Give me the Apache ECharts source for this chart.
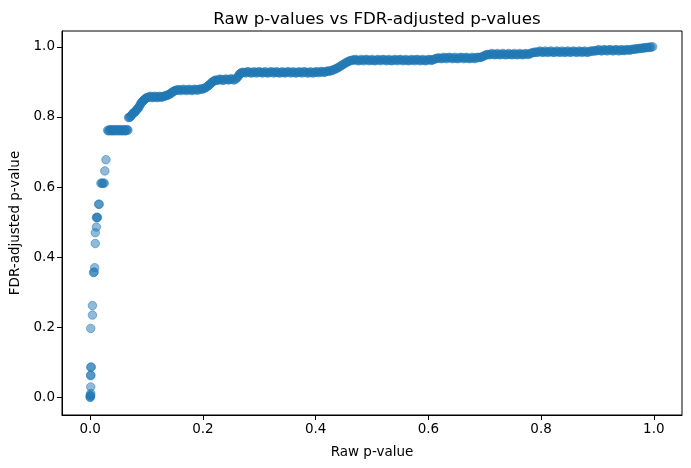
<!DOCTYPE html>
<html>
<head>
<meta charset="utf-8">
<script src="https://cdn.jsdelivr.net/npm/echarts@6/dist/echarts.min.js"></script>
<style>
  html, body { margin: 0; padding: 0; background: #fff; }
  #show_picture { width: 691px; height: 468px; }
</style>
</head>
<body>
<div id="show_picture"></div>
<script>
// [raw p-value, FDR-adjusted p-value]
const steepStart = [
    [0.000, 0.000], [0.000, 0.002], [0.001, 0.004], [0.000, 0.006], [0.001, 0.011],
    [0.001, 0.030], [0.001, 0.062], [0.001, 0.064], [0.001, 0.086], [0.002, 0.087],
    [0.001, 0.197], [0.004, 0.235], [0.004, 0.262], [0.006, 0.356], [0.007, 0.358],
    [0.008, 0.370], [0.009, 0.439], [0.009, 0.470], [0.011, 0.486], [0.011, 0.513],
    [0.012, 0.514], [0.013, 0.513], [0.015, 0.551], [0.016, 0.551], [0.019, 0.611],
    [0.021, 0.611], [0.023, 0.611], [0.025, 0.611], [0.026, 0.646], [0.028, 0.678]
];

const kneePart = [
    [0.031, 0.762], [0.034, 0.762], [0.037, 0.762], [0.040, 0.762], [0.043, 0.762],
    [0.046, 0.762], [0.049, 0.762], [0.052, 0.762], [0.055, 0.762], [0.058, 0.762],
    [0.061, 0.762], [0.064, 0.762], [0.067, 0.762],
    [0.0325, 0.760], [0.0355, 0.764], [0.0385, 0.760], [0.0415, 0.764], [0.0445, 0.760],
    [0.0475, 0.764], [0.0505, 0.760], [0.0535, 0.764], [0.0565, 0.760], [0.0595, 0.764],
    [0.0625, 0.760], [0.0655, 0.764],
    [0.068, 0.798], [0.071, 0.800], [0.074, 0.806], [0.077, 0.812], [0.080, 0.815],
    [0.083, 0.822], [0.086, 0.826], [0.089, 0.836], [0.092, 0.843], [0.095, 0.848],
    [0.098, 0.852], [0.101, 0.855], [0.105, 0.857], [0.109, 0.857], [0.113, 0.857],
    [0.117, 0.857], [0.121, 0.857], [0.125, 0.857], [0.129, 0.858], [0.133, 0.860],
    [0.137, 0.862], [0.141, 0.865], [0.145, 0.870], [0.149, 0.874], [0.153, 0.876],
    [0.158, 0.877], [0.163, 0.877], [0.168, 0.877], [0.173, 0.877], [0.178, 0.877],
    [0.183, 0.877], [0.188, 0.878], [0.193, 0.878], [0.198, 0.879], [0.203, 0.882],
    [0.207, 0.886], [0.211, 0.891], [0.215, 0.897], [0.219, 0.902], [0.223, 0.905],
    [0.228, 0.906], [0.233, 0.906], [0.238, 0.906], [0.243, 0.907], [0.248, 0.907],
    [0.253, 0.907], [0.258, 0.908], [0.262, 0.914], [0.265, 0.922], [0.268, 0.926],
    [0.0695, 0.799], [0.0725, 0.803], [0.0755, 0.809], [0.0785, 0.813], [0.0815, 0.818],
    [0.0845, 0.824], [0.0875, 0.831], [0.0905, 0.840], [0.0935, 0.845], [0.0965, 0.850],
    [0.0995, 0.854], [0.103, 0.856], [0.107, 0.859], [0.111, 0.855], [0.115, 0.859],
    [0.119, 0.855], [0.123, 0.859], [0.127, 0.856], [0.131, 0.859], [0.135, 0.861],
    [0.139, 0.863], [0.143, 0.867], [0.147, 0.872], [0.151, 0.875], [0.1555, 0.878],
    [0.1605, 0.875], [0.1655, 0.879], [0.1705, 0.875], [0.1755, 0.879], [0.1805, 0.875],
    [0.1855, 0.879], [0.1905, 0.876], [0.1955, 0.880], [0.2005, 0.880], [0.205, 0.884],
    [0.209, 0.888], [0.213, 0.894], [0.217, 0.900], [0.221, 0.904], [0.2255, 0.904],
    [0.2305, 0.908], [0.2355, 0.904], [0.2405, 0.908], [0.2455, 0.905], [0.2505, 0.909],
    [0.2555, 0.905], [0.260, 0.911], [0.2635, 0.918], [0.2665, 0.924], [0.2705, 0.927]
];

const middlePart = [
    [0.273, 0.927], [0.278, 0.928], [0.283, 0.927], [0.288, 0.926], [0.293, 0.927],
    [0.298, 0.928], [0.303, 0.927], [0.308, 0.927], [0.313, 0.926], [0.318, 0.927],
    [0.323, 0.928], [0.328, 0.927], [0.333, 0.927], [0.338, 0.926], [0.343, 0.927],
    [0.348, 0.927], [0.353, 0.928], [0.358, 0.927], [0.363, 0.926], [0.368, 0.927],
    [0.373, 0.927], [0.378, 0.928], [0.383, 0.927], [0.388, 0.926], [0.393, 0.927],
    [0.398, 0.927], [0.403, 0.928], [0.408, 0.928], [0.413, 0.928],
    [0.2755, 0.925], [0.2805, 0.929], [0.2855, 0.925], [0.2905, 0.929], [0.2955, 0.925],
    [0.3005, 0.929], [0.3055, 0.925], [0.3105, 0.929], [0.3155, 0.925], [0.3205, 0.929],
    [0.3255, 0.925], [0.3305, 0.929], [0.3355, 0.925], [0.3405, 0.929], [0.3455, 0.925],
    [0.3505, 0.929], [0.3555, 0.925], [0.3605, 0.929], [0.3655, 0.925], [0.3705, 0.929],
    [0.3755, 0.925], [0.3805, 0.929], [0.3855, 0.925], [0.3905, 0.929], [0.3955, 0.925],
    [0.4005, 0.929], [0.4055, 0.926], [0.4105, 0.930], [0.4155, 0.927],
    [0.418, 0.929], [0.423, 0.930], [0.428, 0.932], [0.433, 0.935], [0.438, 0.939],
    [0.443, 0.944], [0.448, 0.949], [0.453, 0.954], [0.458, 0.958], [0.463, 0.961],
    [0.4205, 0.931], [0.4255, 0.931], [0.4305, 0.934], [0.4355, 0.937], [0.4405, 0.941],
    [0.4455, 0.946], [0.4505, 0.951], [0.4555, 0.956], [0.4605, 0.960], [0.4655, 0.962],
    [0.468, 0.962], [0.473, 0.962], [0.478, 0.961], [0.483, 0.962], [0.488, 0.963],
    [0.493, 0.962], [0.498, 0.962], [0.503, 0.961], [0.508, 0.962], [0.513, 0.962],
    [0.518, 0.963], [0.523, 0.962], [0.528, 0.962], [0.533, 0.961], [0.538, 0.962],
    [0.543, 0.962], [0.548, 0.963], [0.553, 0.962], [0.558, 0.962], [0.563, 0.961],
    [0.568, 0.962], [0.573, 0.962], [0.578, 0.963], [0.583, 0.962], [0.588, 0.962],
    [0.593, 0.961], [0.598, 0.962], [0.603, 0.963],
    [0.4705, 0.964], [0.4755, 0.960], [0.4805, 0.964], [0.4855, 0.960], [0.4905, 0.964],
    [0.4955, 0.960], [0.5005, 0.964], [0.5055, 0.960], [0.5105, 0.964], [0.5155, 0.960],
    [0.5205, 0.964], [0.5255, 0.960], [0.5305, 0.964], [0.5355, 0.960], [0.5405, 0.964],
    [0.5455, 0.960], [0.5505, 0.964], [0.5555, 0.960], [0.5605, 0.964], [0.5655, 0.960],
    [0.5705, 0.964], [0.5755, 0.960], [0.5805, 0.964], [0.5855, 0.960], [0.5905, 0.964],
    [0.5955, 0.960], [0.6005, 0.964], [0.6055, 0.961]
];

const upperPart = [
    [0.610, 0.964], [0.615, 0.967], [0.620, 0.968], [0.625, 0.967], [0.630, 0.968],
    [0.635, 0.969], [0.640, 0.968], [0.645, 0.968], [0.650, 0.967], [0.655, 0.968],
    [0.660, 0.969], [0.665, 0.968], [0.670, 0.968], [0.675, 0.967], [0.680, 0.968],
    [0.685, 0.969], [0.690, 0.969], [0.695, 0.971], [0.700, 0.975], [0.705, 0.978],
    [0.710, 0.978], [0.715, 0.979], [0.720, 0.978], [0.725, 0.978], [0.730, 0.979],
    [0.735, 0.978], [0.740, 0.978], [0.745, 0.979], [0.750, 0.978], [0.755, 0.978],
    [0.760, 0.979], [0.765, 0.978], [0.770, 0.979], [0.775, 0.979], [0.780, 0.980],
    [0.785, 0.983], [0.790, 0.985], [0.795, 0.985], [0.800, 0.986], [0.805, 0.985],
    [0.810, 0.985], [0.815, 0.986], [0.820, 0.985], [0.825, 0.985], [0.830, 0.986],
    [0.835, 0.985], [0.840, 0.985], [0.845, 0.986], [0.850, 0.985], [0.855, 0.986],
    [0.860, 0.986], [0.865, 0.985], [0.870, 0.986], [0.875, 0.986], [0.880, 0.985],
    [0.885, 0.986], [0.890, 0.987], [0.895, 0.989], [0.900, 0.990], [0.905, 0.989],
    [0.910, 0.990], [0.915, 0.990], [0.920, 0.991], [0.925, 0.990], [0.930, 0.990],
    [0.935, 0.991], [0.940, 0.990], [0.945, 0.990], [0.950, 0.991], [0.955, 0.991],
    [0.960, 0.992], [0.965, 0.993], [0.970, 0.994], [0.975, 0.995], [0.980, 0.996],
    [0.985, 0.997], [0.990, 0.998], [0.995, 0.999], [0.998, 1.000],
    [0.6075, 0.963], [0.6125, 0.966], [0.6175, 0.968], [0.6225, 0.966], [0.6275, 0.970],
    [0.6325, 0.966], [0.6375, 0.970], [0.6425, 0.966], [0.6475, 0.970], [0.6525, 0.966],
    [0.6575, 0.970], [0.6625, 0.966], [0.6675, 0.970], [0.6725, 0.966], [0.6775, 0.970],
    [0.6825, 0.966], [0.6875, 0.970], [0.6925, 0.970], [0.6975, 0.973], [0.7025, 0.977],
    [0.7075, 0.977], [0.7125, 0.981], [0.7175, 0.977], [0.7225, 0.981], [0.7275, 0.977],
    [0.7325, 0.981], [0.7375, 0.977], [0.7425, 0.981], [0.7475, 0.977], [0.7525, 0.981],
    [0.7575, 0.977], [0.7625, 0.981], [0.7675, 0.977], [0.7725, 0.981], [0.7775, 0.978],
    [0.7825, 0.982], [0.7875, 0.984], [0.7925, 0.984], [0.7975, 0.988], [0.8025, 0.984],
    [0.8075, 0.988], [0.8125, 0.984], [0.8175, 0.988], [0.8225, 0.984], [0.8275, 0.988],
    [0.8325, 0.984], [0.8375, 0.988], [0.8425, 0.984], [0.8475, 0.988], [0.8525, 0.984],
    [0.8575, 0.988], [0.8625, 0.984], [0.8675, 0.988], [0.8725, 0.984], [0.8775, 0.988],
    [0.8825, 0.984], [0.8875, 0.988], [0.8925, 0.988], [0.8975, 0.988], [0.9025, 0.992],
    [0.9075, 0.988], [0.9125, 0.992], [0.9175, 0.988], [0.9225, 0.992], [0.9275, 0.988],
    [0.9325, 0.992], [0.9375, 0.988], [0.9425, 0.992], [0.9475, 0.989], [0.9525, 0.992],
    [0.9575, 0.990], [0.9625, 0.993], [0.9675, 0.994], [0.9725, 0.995], [0.9775, 0.996],
    [0.9825, 0.997], [0.9875, 0.998], [0.9925, 0.999]
];

const xTicks = [0, 0.2, 0.4, 0.6, 0.8, 1.0];
const yTicks = [0, 0.2, 0.4, 0.6, 0.8, 1.0];

let myChart = echarts.init(document.getElementById('show_picture'), null, { renderer: 'canvas' });

const font = 'DejaVu Sans';
let points = steepStart.concat(kneePart, middlePart, upperPart);

let option = {
    animation: false,
    backgroundColor: '#fff',
    textStyle: { fontFamily: font },
    title: {
        text: 'Raw p-values vs FDR-adjusted p-values',
        left: 372,
        textAlign: 'center',
        top: 6,
        textStyle: { fontFamily: font, fontSize: 16.7, fontWeight: 'normal', color: '#000' }
    },
    grid: {
        left: 62, right: 9, top: 31, bottom: 53,
        show: true, borderColor: '#000', borderWidth: 1,
        containLabel: false
    },
    xAxis: {
        type: 'value',
        min: -0.05,
        max: 1.05,
        name: 'Raw p-value',
        nameLocation: 'middle',
        nameGap: 30,
        nameTextStyle: { fontFamily: font, fontSize: 13.5, color: '#000' },
        splitLine: { show: false },
        axisLine: { show: true, onZero: false, lineStyle: { color: '#000', width: 1 } },
        axisTick: { show: true, customValues: xTicks, length: 5, lineStyle: { color: '#000' } },
        axisLabel: {
            customValues: xTicks, margin: 7,
            fontFamily: font, fontSize: 13.5, color: '#000',
            formatter: v => v.toFixed(1)
        }
    },
    yAxis: {
        type: 'value',
        min: -0.05,
        max: 1.045,
        name: 'FDR-adjusted p-value',
        nameLocation: 'middle',
        nameGap: 37,
        nameTextStyle: { fontFamily: font, fontSize: 13.5, color: '#000' },
        splitLine: { show: false },
        axisLine: { show: true, onZero: false, lineStyle: { color: '#000', width: 1 } },
        axisTick: { show: true, customValues: yTicks, length: 5, lineStyle: { color: '#000' } },
        axisLabel: {
            customValues: yTicks, margin: 7,
            fontFamily: font, fontSize: 13.5, color: '#000',
            formatter: v => v.toFixed(1)
        }
    },
    series: [
        {
            type: 'scatter',
            symbol: 'circle',
            symbolSize: 8.5,
            itemStyle: { color: '#1f77b4', opacity: 0.5, borderColor: '#1f77b4', borderWidth: 1 },
            data: points
        }
    ]
};

option && myChart.setOption(option);
</script>
</body>
</html>
